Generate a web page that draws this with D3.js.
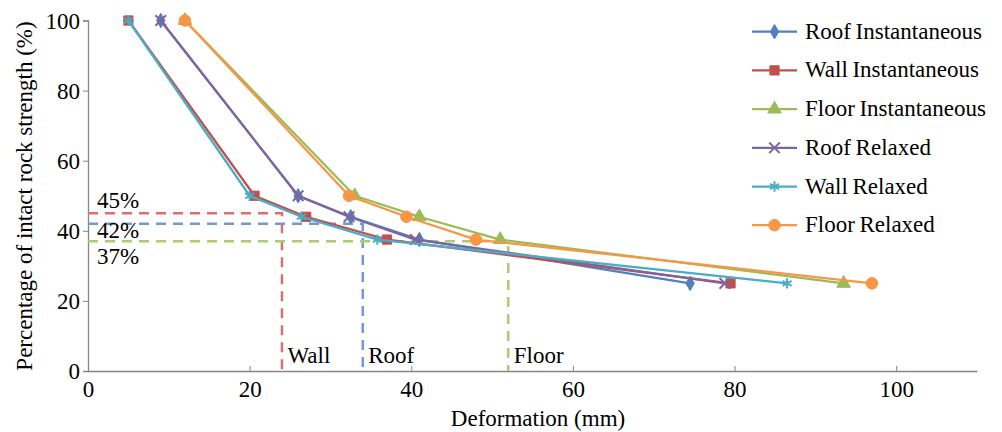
<!DOCTYPE html>
<html>
<head>
<meta charset="utf-8">
<script src="https://cdn.jsdelivr.net/npm/d3@7"></script>
<style>
  body { margin: 0; background: #fff; }
</style>
</head>
<body>
<svg width="1002" height="432"></svg>
<script>
// series values (deformation in mm, strength in %)
const seriesNames = ['Roof Instantaneous', 'Wall Instantaneous', 'Floor Instantaneous',
  'Roof Relaxed', 'Wall Relaxed', 'Floor Relaxed'];
const strength = [100, 50, 44, 37.5, 25];
const roofInstantaneous = [9, 26, 32.5, 41, 74.5];
const wallInstantaneous = [5, 20.6, 27, 37, 79.5];
const floorInstantaneous = [12, 33, 41, 51, 93.5];
const roofRelaxed = [9, 26, 32.3, 40.5, 78.8];
const wallRelaxed = [5, 20, 26.4, 35.8, 86.5];
const floorRelaxed = [12, 32.3, 39.4, 48, 97];

// reference levels
const refNames = ['Wall', 'Roof', 'Floor'];
const refStrength = [45, 42, 37];
const refDeformation = [24, 34, 52];
const refLabels = ['45%', '42%', '37%'];

const xTicks = [0, 20, 40, 60, 80, 100];
const yTicks = [0, 20, 40, 60, 80, 100];

const colors = ['#4F81BD', '#C0504D', '#9BBB59', '#8064A2', '#4BACC6', '#F79646'];
const refColors = ['#D9716E', '#7199D6', '#ABCB74'];
const symbols = [
  {type: d3.symbolDiamond, size: 60, fill: true},
  {type: d3.symbolSquare, size: 85, fill: true},
  {type: d3.symbolTriangle, size: 80, fill: true},
  {type: d3.symbolTimes, size: 75, fill: false},
  {type: d3.symbolAsterisk, size: 75, fill: false},
  {type: d3.symbolCircle, size: 105, fill: true}
];
const xSets = [roofInstantaneous, wallInstantaneous, floorInstantaneous,
  roofRelaxed, wallRelaxed, floorRelaxed];

const serif = '"Liberation Serif"';
const svg = d3.select('svg');

const xScale = d3.scaleLinear().domain([0, 110]).range([88, 977]);
const yScale = d3.scaleLinear().domain([0, 100]).range([371, 20.5]);

const axisColor = '#868686';

const label = (sel) => sel.style('font-family', serif).attr('font-size', 23).attr('fill', '#000');

// axes
const xAxisG = svg.append('g')
  .attr('transform', `translate(0, ${yScale(0)})`)
  .call(d3.axisBottom(xScale).tickValues(xTicks).tickSizeInner(-5).tickSizeOuter(0));
xAxisG.selectAll('line').attr('stroke', axisColor);
xAxisG.select('.domain').attr('stroke', axisColor).attr('stroke-width', 1.3);
xAxisG.selectAll('.tick text').call(label).attr('dy', null).attr('y', 26);

const yAxisG = svg.append('g')
  .attr('transform', `translate(${xScale(0)}, 0)`)
  .call(d3.axisLeft(yScale).tickValues(yTicks).tickSizeInner(5).tickSizeOuter(5).tickPadding(3));
yAxisG.selectAll('line').attr('stroke', axisColor);
yAxisG.select('.domain').attr('stroke', axisColor).attr('stroke-width', 1.3);
yAxisG.selectAll('.tick text').call(label).attr('dy', '0.34em');

svg.append('text')
  .attr('x', 538)
  .attr('y', 426)
  .attr('text-anchor', 'middle')
  .call(label)
  .text('Deformation (mm)');

svg.append('text')
  .attr('transform', `translate(32, 196) rotate(-90)`)
  .attr('text-anchor', 'middle')
  .call(label)
  .text('Percentage of intact rock strength (%)');

// reference dashed lines
refNames.forEach((name, i) => {
  svg.append('path')
    .attr('d', d3.line()([
      [xScale(0), yScale(refStrength[i])],
      [xScale(refDeformation[i]), yScale(refStrength[i])],
      [xScale(refDeformation[i]), yScale(0)]
    ]))
    .attr('fill', 'none')
    .attr('stroke', refColors[i])
    .attr('stroke-width', 2.5)
    .attr('stroke-dasharray', '10,7');
  svg.append('text')
    .attr('x', xScale(refDeformation[i]) + 5.5)
    .attr('y', yScale(0) - 8)
    .call(label)
    .text(name);
});

const refLabelY = [208, 238, 264];
refLabels.forEach((t, i) => {
  svg.append('text')
    .attr('x', 97)
    .attr('y', refLabelY[i])
    .call(label)
    .text(t);
});

// series
const line = d3.line()
  .x(d => xScale(d[0]))
  .y(d => yScale(d[1]));

const drawMarker = (sel, i) => {
  const s = symbols[i];
  sel.attr('d', d3.symbol().type(s.type).size(s.size)())
    .attr('fill', s.fill ? colors[i] : 'none')
    .attr('stroke', colors[i])
    .attr('stroke-width', s.fill ? 1 : 2);
};

seriesNames.forEach((name, i) => {
  const pts = xSets[i].map((x, j) => [x, strength[j]]);
  svg.append('path')
    .attr('d', line(pts))
    .attr('fill', 'none')
    .attr('stroke', colors[i])
    .attr('stroke-width', 2.25);
  svg.append('g').selectAll('path')
    .data(pts)
    .join('path')
    .attr('transform', d => `translate(${xScale(d[0])}, ${yScale(d[1])})`)
    .call(sel => drawMarker(sel, i));
});

// legend
const legend = svg.append('g');
seriesNames.forEach((name, i) => {
  const y = 31.7 + i * 38.7;
  legend.append('line')
    .attr('x1', 752).attr('x2', 797)
    .attr('y1', y).attr('y2', y)
    .attr('stroke', colors[i])
    .attr('stroke-width', 2.25);
  legend.append('path')
    .attr('transform', `translate(774.5, ${y})`)
    .call(sel => drawMarker(sel, i));
  legend.append('text')
    .attr('x', 805)
    .attr('y', y + 7)
    .call(label)
    .text(name.replace(' ', '\u2009'));
});
</script>
</body>
</html>
